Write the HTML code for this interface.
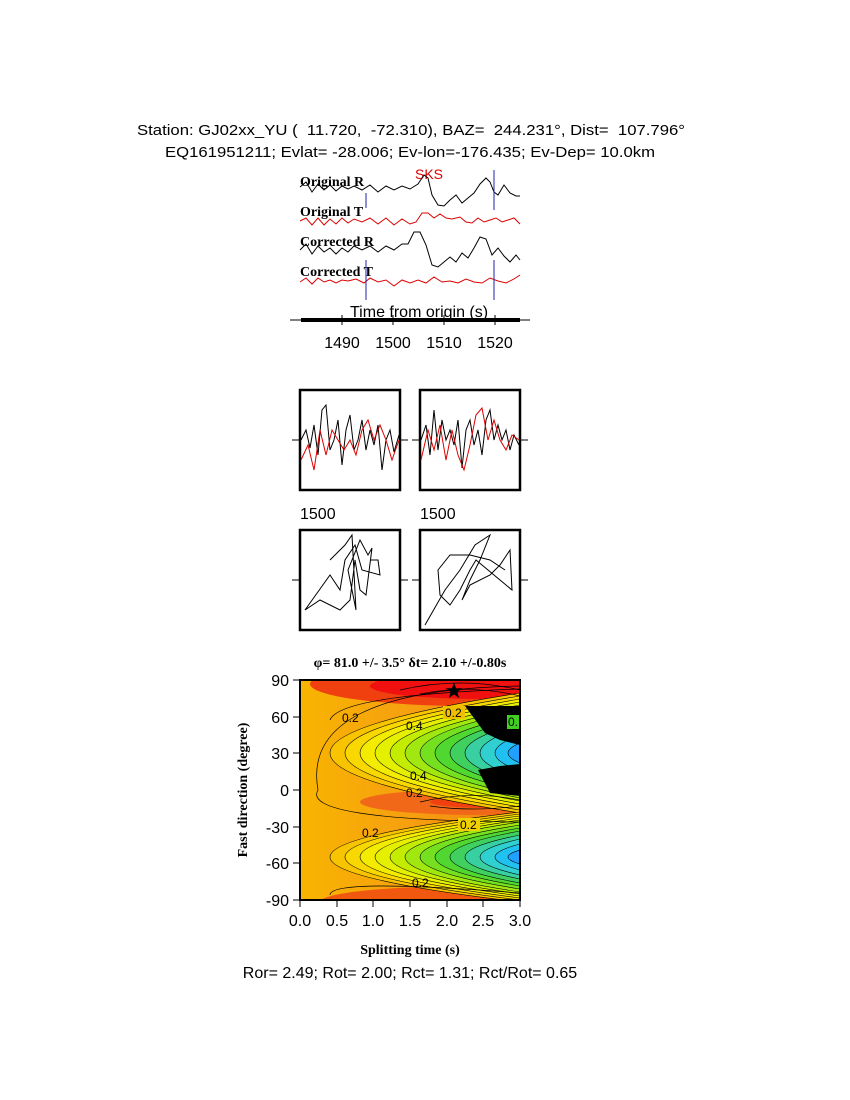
<!DOCTYPE html>
<html><head><meta charset="utf-8"><style>
body{margin:0;background:#fff;width:850px;height:1100px;overflow:hidden}
svg{position:absolute;left:0;top:0}
text{font-family:"Liberation Sans",sans-serif}
.s{font-family:"Liberation Serif",serif;font-weight:bold}
</style></head><body>
<svg width="850" height="1100" viewBox="0 0 850 1100">
<defs>
<linearGradient id="bg" x1="0" x2="1" y1="0" y2="0">
<stop offset="0" stop-color="#f8b400"/><stop offset="0.5" stop-color="#f6a010"/><stop offset="1" stop-color="#f08010"/></linearGradient>
<clipPath id="cp"><rect x="300" y="680" width="220" height="220"/></clipPath>
</defs>
<text x="137" y="135" font-size="15" textLength="548" lengthAdjust="spacingAndGlyphs" xml:space="preserve">Station: GJ02xx_YU (  11.720,  -72.310), BAZ=  244.231°, Dist=  107.796°</text>
<text x="165" y="157" font-size="15" textLength="490" lengthAdjust="spacingAndGlyphs" xml:space="preserve">EQ161951211; Evlat= -28.006; Ev-lon=-176.435; Ev-Dep= 10.0km</text>
<text x="300" y="186" font-size="14" class="s">Original R</text>
<text x="300" y="216" font-size="14" class="s">Original T</text>
<text x="300" y="246" font-size="14" class="s">Corrected R</text>
<text x="300" y="276" font-size="14" class="s">Corrected T</text>
<text x="415" y="179" font-size="14" fill="#d00">SKS</text>
<polyline fill="none" stroke="#000" points="300,187 306,182 312,192 318,184 324,190 330,185 336,191 342,186 348,189 354,186 362,190 370,185 378,192 386,186 394,190 402,186 410,189 418,184 424,175 428,178 432,195 438,205 444,206 450,200 456,195 462,203 468,198 474,193 480,184 486,178 490,182 494,192 498,195 504,185 510,193 516,196 520,196"/>
<polyline fill="none" stroke="#d00" points="300,221 306,218 312,225 318,218 324,225 330,219 336,224 342,218 348,223 354,219 362,222 370,218 378,224 386,218 394,225 402,219 410,224 416,222 422,213 428,213 434,218 440,214 446,218 452,219 460,217 466,222 472,223 478,218 484,222 490,220 496,218 502,222 508,220 514,218 520,224"/>
<polyline fill="none" stroke="#000" points="300,250 306,244 312,254 318,246 324,252 330,248 336,254 342,248 348,252 354,246 362,250 370,246 378,252 386,246 394,250 402,244 408,244 414,232 420,232 426,245 432,265 438,267 444,262 450,257 456,262 462,253 468,258 474,248 480,237 486,239 492,255 498,248 504,256 510,262 516,255 520,260"/>
<polyline fill="none" stroke="#d00" points="300,282 306,278 312,284 318,278 324,282 330,280 336,283 342,280 348,281 356,279 364,283 370,278 378,282 386,280 394,286 402,280 410,283 418,280 426,283 434,277 442,282 450,281 458,283 466,279 474,282 482,283 490,278 498,281 506,283 514,279 520,275"/>
<line x1="366" y1="193" x2="366" y2="208" stroke="#22a"/>
<line x1="494" y1="170" x2="494" y2="210" stroke="#22a"/>
<line x1="366" y1="260" x2="366" y2="300" stroke="#22a"/>
<line x1="494" y1="260" x2="494" y2="300" stroke="#22a"/>
<text x="350" y="317" font-size="16">Time from origin (s)</text>
<line x1="290" y1="320" x2="530" y2="320" stroke="#000"/>
<line x1="301" y1="320" x2="520" y2="320" stroke="#000" stroke-width="4"/>
<g stroke="#000"><line x1="342" y1="315" x2="342" y2="325"/><line x1="393" y1="315" x2="393" y2="325"/><line x1="444" y1="315" x2="444" y2="325"/><line x1="495" y1="315" x2="495" y2="325"/></g>
<g font-size="16" text-anchor="middle"><text x="342" y="348">1490</text><text x="393" y="348">1500</text><text x="444" y="348">1510</text><text x="495" y="348">1520</text></g>
<g fill="none" stroke="#000" stroke-width="2.5">
<rect x="300" y="390" width="100" height="100"/><rect x="420" y="390" width="100" height="100"/>
<rect x="300" y="530" width="100" height="100"/><rect x="420" y="530" width="100" height="100"/></g>
<g stroke="#000"><line x1="292" y1="440" x2="300" y2="440"/><line x1="400" y1="440" x2="408" y2="440"/><line x1="412" y1="440" x2="420" y2="440"/><line x1="520" y1="440" x2="528" y2="440"/>
<line x1="292" y1="580" x2="300" y2="580"/><line x1="400" y1="580" x2="408" y2="580"/><line x1="412" y1="580" x2="420" y2="580"/><line x1="520" y1="580" x2="528" y2="580"/></g>
<polyline fill="none" stroke="#000" points="301,440 306,430 310,448 314,425 318,455 322,410 326,405 330,450 334,440 338,420 342,465 346,430 350,415 354,450 358,440 362,420 366,450 370,430 374,445 378,425 382,470 386,440 390,430 394,452 399,435"/>
<polyline fill="none" stroke="#d00" points="301,460 308,445 314,470 320,430 326,455 332,430 338,440 344,450 350,440 356,455 362,430 368,420 374,440 380,425 386,440 392,460 399,440"/>
<polyline fill="none" stroke="#000" points="421,440 426,425 430,455 434,410 438,450 442,420 446,440 450,430 454,445 458,420 462,468 466,430 470,420 474,445 478,430 482,455 486,420 490,410 494,440 498,425 502,440 506,430 510,450 514,435 519,445"/>
<polyline fill="none" stroke="#d00" points="421,460 428,430 434,450 440,425 446,460 452,430 458,455 464,470 470,445 476,415 482,408 488,440 494,420 500,440 506,450 512,435 519,440"/>
<text x="300" y="519" font-size="16">1500</text><text x="420" y="519" font-size="16">1500</text>
<polyline fill="none" stroke="#000" points="330,560 345,545 352,535 356,610 348,570 360,540 368,555 372,548 366,595 360,590 355,560 350,600 340,610 320,600 305,610 330,575 340,590 345,560 355,545 362,570 380,575 378,560 370,560"/>
<polyline fill="none" stroke="#000" points="425,625 445,590 460,570 475,545 490,535 480,560 470,580 462,600 470,585 490,575 500,565 510,550 512,590 500,580 488,570 476,560 470,570 460,590 450,605 440,595 438,570 450,555 470,555 490,560 505,570"/>
<text x="410" y="667" font-size="14" class="s" text-anchor="middle">φ= 81.0 +/- 3.5° δt= 2.10 +/-0.80s</text>
<g clip-path="url(#cp)">
<rect x="300" y="680" width="220" height="220" fill="url(#bg)"/>
<ellipse cx="470" cy="684" rx="160" ry="22" fill="#f04010"/>
<ellipse cx="480" cy="686" rx="110" ry="13" fill="#f01010"/>
<ellipse cx="480" cy="802" rx="120" ry="13" fill="#f06818"/>
<ellipse cx="490" cy="802" rx="60" ry="6" fill="#f04010"/>
<ellipse cx="470" cy="902" rx="150" ry="16" fill="#f05810"/>
<g stroke="#000" stroke-width="0.6">
<path d="M520 693 Q140 753 520 813Z" fill="#f8c400"/>
<path d="M520 696 Q170 753 520 810Z" fill="#f8d800"/>
<path d="M520 699 Q200 753 520 807Z" fill="#f4ec00"/>
<path d="M520 702 Q230 753 520 804Z" fill="#e4f000"/>
<path d="M520 705 Q260 753 520 801Z" fill="#c4ec00"/>
<path d="M520 708 Q290 753 520 798Z" fill="#a0e810"/>
<path d="M520 711 Q320 753 520 795Z" fill="#74e020"/>
<path d="M520 715 Q350 753 520 791Z" fill="#50d830"/>
<path d="M520 719 Q380 753 520 787Z" fill="#40d060"/>
<path d="M520 723 Q410 753 520 783Z" fill="#38d0a0"/>
<path d="M520 728 Q440 753 520 778Z" fill="#30d0d0"/>
<path d="M520 735 Q470 753 520 771Z" fill="#20c0f0"/>
<path d="M520 743 Q496 753 520 763Z" fill="#20a0ff"/>
<path d="M520 812 Q140 857 520 902Z" fill="#f8c400"/>
<path d="M520 814 Q170 857 520 900Z" fill="#f8d800"/>
<path d="M520 816 Q200 857 520 898Z" fill="#f4ec00"/>
<path d="M520 818 Q230 857 520 896Z" fill="#e4f000"/>
<path d="M520 820 Q260 857 520 894Z" fill="#c4ec00"/>
<path d="M520 822 Q290 857 520 892Z" fill="#a0e810"/>
<path d="M520 825 Q320 857 520 889Z" fill="#74e020"/>
<path d="M520 828 Q350 857 520 886Z" fill="#50d830"/>
<path d="M520 831 Q380 857 520 883Z" fill="#40d060"/>
<path d="M520 835 Q410 857 520 879Z" fill="#38d0a0"/>
<path d="M520 839 Q440 857 520 875Z" fill="#30d0d0"/>
<path d="M520 844 Q470 857 520 870Z" fill="#20c0f0"/>
<path d="M520 850 Q496 857 520 864Z" fill="#20a0ff"/>
</g>
<polygon points="465,706 520,706 520,745 500,740 485,733" fill="#000"/>
<polygon points="478,770 500,766 520,764 520,796 490,793" fill="#000"/>
<g fill="none" stroke="#000" stroke-width="0.7">
<path d="M520 686 Q300 690 318 790 Q300 820 520 822"/><path d="M520 689 Q340 695 330 720"/><path d="M330 895 Q330 878 520 893"/>
<path d="M400 690 Q460 676 520 690"/><path d="M420 694 Q470 684 520 696"/><path d="M420 802 Q470 790 520 800"/><path d="M430 806 Q470 812 520 806"/>
</g>
<g font-size="12"><rect x="443" y="706" width="22" height="13" fill="#f0c000"/><text x="445" y="717">0.2</text>
<text x="342" y="722">0.2</text><text x="406" y="730">0.4</text><text x="410" y="780">0.4</text><text x="406" y="797">0.2</text><text x="362" y="837">0.2</text><text x="412" y="887">0.2</text>
<rect x="458" y="818" width="22" height="13" fill="#f0d000"/><text x="460" y="829">0.2</text>
<rect x="507" y="715" width="13" height="14" fill="#40d020"/><text x="508" y="726">0.</text></g>
</g>
<rect x="300" y="680" width="220" height="220" fill="none" stroke="#000" stroke-width="2"/>
<text x="454" y="698" font-size="22" text-anchor="middle">★</text>
<g stroke="#000">
<line x1="293" y1="680" x2="300" y2="680"/><line x1="293" y1="717" x2="300" y2="717"/><line x1="293" y1="753" x2="300" y2="753"/><line x1="293" y1="790" x2="300" y2="790"/><line x1="293" y1="827" x2="300" y2="827"/><line x1="293" y1="863" x2="300" y2="863"/><line x1="293" y1="900" x2="300" y2="900"/>
<line x1="300" y1="900" x2="300" y2="907"/><line x1="337" y1="900" x2="337" y2="907"/><line x1="373" y1="900" x2="373" y2="907"/><line x1="410" y1="900" x2="410" y2="907"/><line x1="447" y1="900" x2="447" y2="907"/><line x1="483" y1="900" x2="483" y2="907"/><line x1="520" y1="900" x2="520" y2="907"/></g>
<g font-size="16" text-anchor="end"><text x="289" y="686">90</text><text x="289" y="723">60</text><text x="289" y="759">30</text><text x="289" y="796">0</text><text x="289" y="833">-30</text><text x="289" y="869">-60</text><text x="289" y="906">-90</text></g>
<g font-size="16" text-anchor="middle"><text x="300" y="926">0.0</text><text x="337" y="926">0.5</text><text x="373" y="926">1.0</text><text x="410" y="926">1.5</text><text x="447" y="926">2.0</text><text x="483" y="926">2.5</text><text x="520" y="926">3.0</text></g>
<text x="410" y="954" font-size="14" class="s" text-anchor="middle">Splitting time (s)</text>
<text transform="translate(247,790) rotate(-90)" font-size="14" class="s" text-anchor="middle">Fast direction (degree)</text>
<text x="410" y="978" font-size="16" text-anchor="middle">Ror= 2.49; Rot= 2.00; Rct= 1.31; Rct/Rot= 0.65</text>
</svg>
</body></html>
